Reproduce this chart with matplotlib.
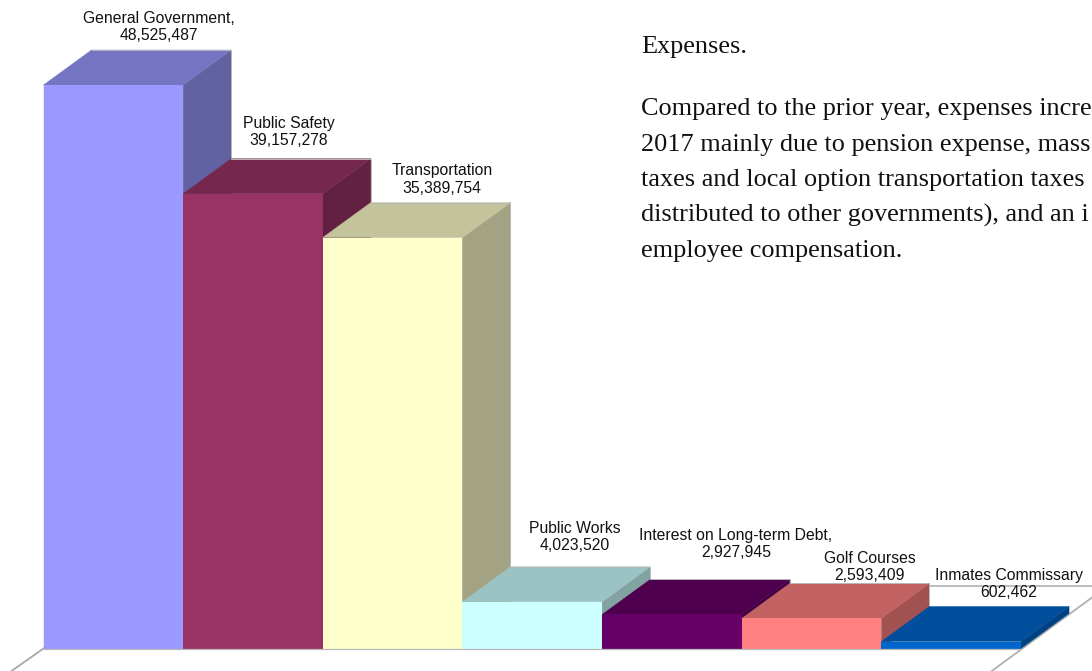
import matplotlib
matplotlib.use("Agg")
import matplotlib.pyplot as plt
from matplotlib.patches import Polygon

categories = ["General Government,", "Public Safety", "Transportation", "Public Works",
              "Interest on Long-term Debt,", "Golf Courses", "Inmates Commissary"]
expenses = [48525487, 39157278, 35389754, 4023520, 2927945, 2593409, 602462]
bar_colors = ["#9999FF", "#993366", "#FFFFCC", "#CCFFFF", "#660066", "#FF8080", "#0066CC"]
body_lines = ["Expenses.",
              "Compared to the prior year, expenses incre",
              "2017 mainly due to pension expense, mass",
              "taxes and local option transportation taxes",
              "distributed to other governments), and an i",
              "employee compensation."]
body_y = [53, 115, 150.5, 186, 221.5, 257]

W, H = 1092, 671
# pixel layout of the plot area
x0, y0 = 43.5, 648.5
bar_w = 139.65
px_per_unit = 563.5 / 48525487
depth_x, depth_y = 48 / bar_w, 35 / px_per_unit
edge = "#B8B8B8"

fig = plt.figure(figsize=(W / 100, H / 100), dpi=100)
ax = fig.add_axes([0, 0, 1, 1])
ax.set_xlim(-x0 / bar_w, (W - x0) / bar_w)
ax.set_ylim(-(H - y0) / px_per_unit, y0 / px_per_unit)
ax.axis("off")


def shade(color, f):
    r, g, b = matplotlib.colors.to_rgb(color)
    return (r * f, g * f, b * f)


def fake3d_bar(i, v, color):
    front = [(i, 0), (i + 1, 0), (i + 1, v), (i, v)]
    top = [(i, v), (i + 1, v), (i + 1 + depth_x, v + depth_y), (i + depth_x, v + depth_y)]
    side = [(i + 1, 0), (i + 1 + depth_x, depth_y), (i + 1 + depth_x, v + depth_y), (i + 1, v)]
    side_c, top_c = shade(color, 0.64), shade(color, 0.765)
    ax.add_patch(Polygon(side, fc=side_c, ec=side_c, lw=0.3, zorder=3 + i))
    ax.add_patch(Polygon(top, fc=top_c, ec=top_c, lw=0.3, zorder=3 + i))
    # soft grey rim along the back of the box, too small to show on the last one
    if v > 1000000:
        ax.plot([i + depth_x, i + 1 + depth_x, i + 1 + depth_x],
                [v + depth_y, v + depth_y, depth_y], color=edge, lw=0.7, zorder=3 + i)
    ax.add_patch(Polygon(front, fc=color, ec="none", zorder=3 + i))


# floor and wall lines behind the bars
n = len(expenses)
ax.plot([0, n], [0, 0], color=edge, lw=0.9, zorder=12)
ax.plot([0, 0], [0, expenses[0]], color="#E6E6F0", lw=1.2, zorder=2)
ax.plot([-32 / bar_w, 0], [-22.5 / px_per_unit, 0], color="#A8A8A8", lw=1.3, zorder=2)
ax.plot([n - 30 / bar_w, n + 71 / bar_w], [-23 / px_per_unit, 51 / px_per_unit],
        color="#B0B0B0", lw=1.3, zorder=2)
ax.plot([n - 1 + 48 / bar_w, n + 71 / bar_w], [63 / px_per_unit, 63 / px_per_unit],
        color="#B8B8B8", lw=1.3, zorder=2)

for i, (v, c) in enumerate(zip(expenses, bar_colors)):
    fake3d_bar(i, v, c)

# data labels sit in pixel positions, they don't follow a fixed offset
label_x = [159, 289, 442, 575, 736, 870, 1009]
label_y = [27, 132, 179.5, 537, 544, 567, 584]
for name, v, lx, ly in zip(categories, expenses, label_x, label_y):
    fig.text(lx / W, 1 - ly / H, "%s\n%s" % (name, format(v, ",")), ha="center", va="center",
             family="Liberation Sans", fontsize=11.3, color="#111111", linespacing=1.2, zorder=20)

# paragraph next to the chart
for line, ly in zip(body_lines, body_y):
    fig.text(641 / W, 1 - ly / H, line, ha="left", va="baseline",
             family="Liberation Serif", fontsize=18.9, color="#111111")

plt.savefig("out.png", dpi=100)
